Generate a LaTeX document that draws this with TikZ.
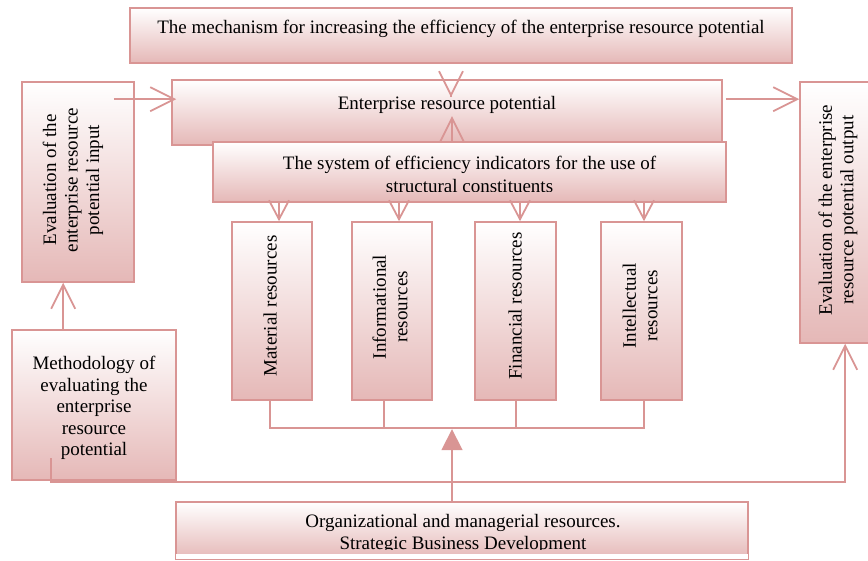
\documentclass[tikz,border=0pt]{standalone}
\usepackage{fontspec}
\setmainfont{Liberation Serif}
\usepackage{xcolor}
\usetikzlibrary{arrows.meta}
\definecolor{boxline}{HTML}{D99594}
\definecolor{boxfill}{HTML}{E5B8B7}

\begin{document}
\begin{tikzpicture}[x=1pt, y=-1pt, font=\fontsize{19}{21.5}\selectfont]
% Define styles
\tikzstyle{box} = [rectangle, draw=boxline, line width=1.6pt, top color=white, bottom color=boxfill, inner sep=0pt]
\tikzstyle{txt} = [align=center, inner sep=0pt, text=black]
\tikzstyle{conn} = [draw=boxline, line width=1.8pt]
\tikzstyle{arr} = [conn, -{Straight Barb[length=24pt, width=24pt]}]
\tikzstyle{arrs} = [conn, -{Straight Barb[length=19pt, width=20pt]}]
\tikzstyle{triarr} = [conn, -{Triangle[length=21pt, width=21pt, fill=boxline]}]

\clip (0,0) rectangle (868,560);

% Top blocks
\node [box, minimum width=662, minimum height=55] (mech) at (461,35.5) {};
\node [txt] (mechtxt) at (461,28.5) {The mechanism for increasing the efficiency of the enterprise resource potential};
\node [box, minimum width=550, minimum height=65] (ent) at (447,112.5) {};
\node [txt] (enttxt) at (447,104.5) {Enterprise resource potential};
\node [box, minimum width=513, minimum height=60] (sys) at (469.5,172) {};
\begin{scope}
\clip (sys.north west) rectangle ([yshift=11.5pt]sys.south east);
\node [txt, font=\fontsize{19}{23}\selectfont] (systxt) at (469.5,174.5) {The system of efficiency indicators for the use of\\structural constituents};
\end{scope}

% Input and output evaluation
\node [box, minimum width=112, minimum height=200] (inl) at (78,182) {};
\node [txt, rotate=90] (inltxt) at (73,180) {Evaluation of the\\enterprise resource\\potential input};
\node [box, minimum width=74, minimum height=261] (outb) at (837,212.5) {};
\node [txt, rotate=90] (outtxt) at (838,210) {Evaluation of the enterprise\\resource potential output};

% Structural constituents
\node [box, minimum width=80, minimum height=178] (mat) at (272,311) {};
\node [txt, rotate=90] (mattxt) at (270,306) {Material resources};
\node [box, minimum width=80, minimum height=178] (inf) at (392,311) {};
\node [txt, rotate=90] (inftxt) at (390,307) {Informational\\resources};
\node [box, minimum width=81, minimum height=178] (fin) at (515.5,311) {};
\node [txt, rotate=90] (fintxt) at (515,306) {Financial resources};
\node [box, minimum width=81, minimum height=178] (int) at (641.5,311) {};
\node [txt, rotate=90] (inttxt) at (640,306) {Intellectual\\resources};

% Methodology
\node [box, minimum width=164, minimum height=150] (meth) at (94,405) {};
\node [txt] (methtxt) at (94,408) {Methodology of\\evaluating the\\enterprise\\resource\\potential};

% Organizational resources
\node [box, minimum width=572, minimum height=57] (org) at (462,530.5) {};
\fill [white] ([shift={(1,-6)}]org.south west) rectangle ([shift={(-1,-1)}]org.south east);
\begin{scope}
\clip (org.north west) rectangle ([yshift=10.5pt]org.south east);
\node [txt, font=\fontsize{19}{22}\selectfont] (orgtxt) at (463,533.5) {Organizational and managerial resources.\\Strategic Business Development};
\end{scope}

% Connections
\draw [arr] ([shift={(-21,18)}]inl.north east) -- ([shift={(5,20)}]ent.north west);
\draw [arr] ([shift={(3,20)}]ent.north east) -- ([shift={(0,18)}]outb.north west);
\coordinate (mtip) at ([shift={(4,18)}]ent.north);
\draw [arr, shorten <=33pt] (mtip |- mech.south) -- (mtip);
\coordinate (utip) at ([shift={(-17.5,-25)}]sys.north);
\draw [arr] (utip |- sys.north) -- (utip);
\foreach \n/\dx in {mat/7, inf/7, fin/4.5, int/2.5} {
  \coordinate (tip) at ([xshift=\dx pt]\n.north);
  \draw [arrs] (tip |- sys.south) -- (tip);
}
\draw [conn] ([xshift=-2pt]mat.south) -- ++(0,27) -| ([xshift=2.5pt]int.south);
\draw [conn] ([xshift=-8pt]inf.south) -- ++(0,27);
\draw [conn] ([xshift=0.5pt]fin.south) -- ++(0,27);
\draw [triarr] ([xshift=-10pt]org.north) -- ++(0,-72);
\coordinate (mup) at ([xshift=52pt]meth.north west);
\draw [arr] (mup) -- (mup |- inl.south);
\coordinate (mdn) at ([shift={(40,129)}]meth.north west);
\coordinate (rtip) at ([xshift=46pt]outb.south west);
\draw [arr] (mdn) -- ++(0,24) -| (rtip);

\end{tikzpicture}
\end{document}
